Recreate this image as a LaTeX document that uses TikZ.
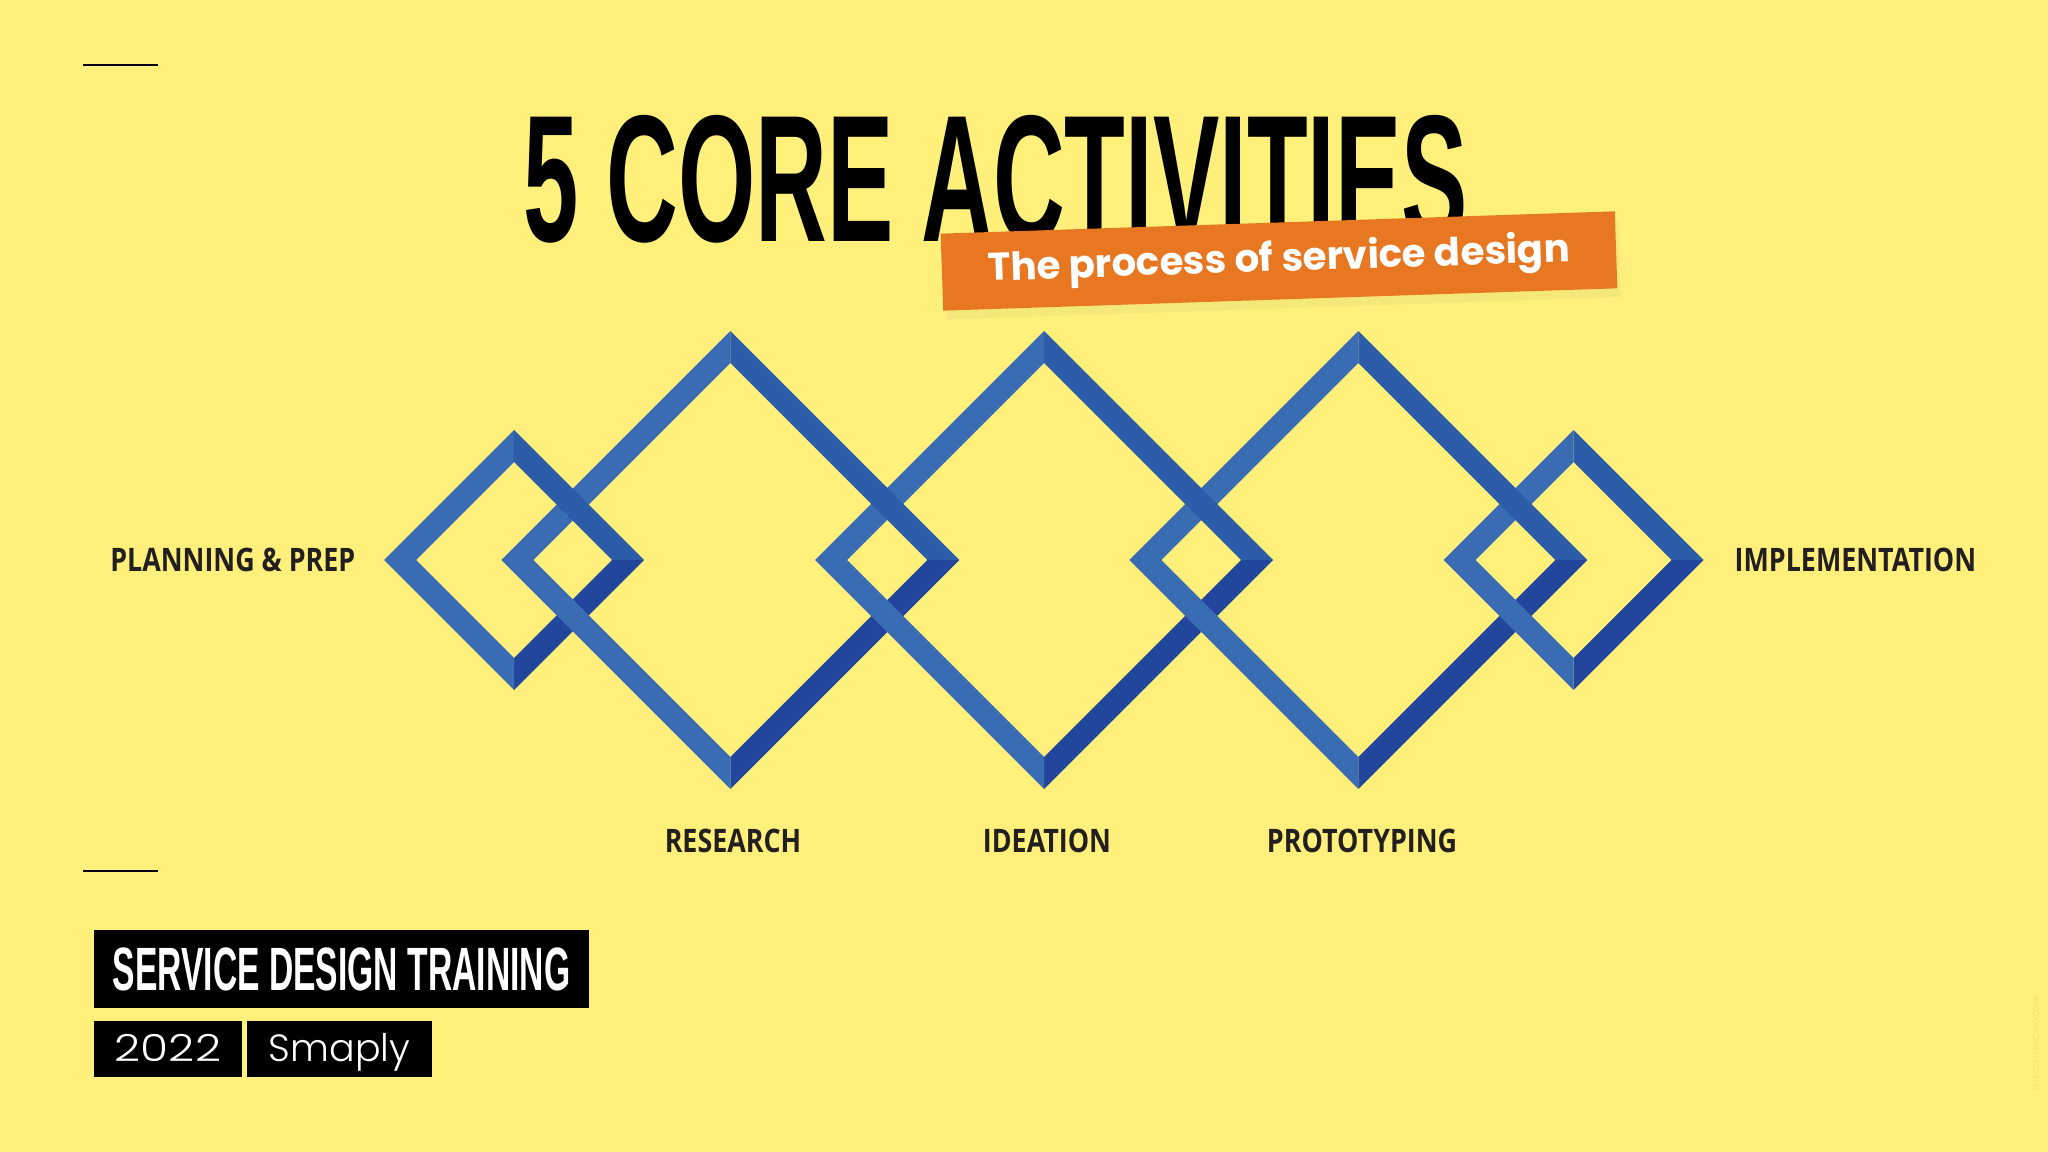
\documentclass[tikz,border=0pt]{standalone}
\usepackage{fontspec}
\setmainfont{Open Sans}
\newfontfamily\titlefont[FakeStretch=0.55]{Liberation Sans}
\newfontfamily\labelfont[FakeStretch=0.83]{Open Sans}
\newfontfamily\popfont{Poppins}
\newfontfamily\popthin{Poppins Light}
\newfontfamily\popwide[FakeStretch=1.22]{Poppins Light}
\usetikzlibrary{shadows}
\definecolor{bgyellow}{RGB}{254,240,122}
\definecolor{blueL}{RGB}{58,108,180}
\definecolor{blueM}{RGB}{45,92,168}
\definecolor{blueD}{RGB}{34,70,155}
\definecolor{bannerorange}{RGB}{232,119,34}
\definecolor{inkdark}{RGB}{35,31,32}
\definecolor{faint}{RGB}{238,224,114}
\begin{document}
\begin{tikzpicture}[x=0.01cm,y=-0.01cm,
  stagelabel/.style={inner sep=0pt,text=inkdark,font=\labelfont\bfseries\fontsize{9.2}{11}\selectfont},
  blackbox/.style={fill=black,text=white,inner sep=0pt},
  banner/.style={fill=bannerorange,text=white,inner sep=0pt,font=\popfont\bfseries\fontsize{11}{13}\selectfont,
    drop shadow={opacity=0.07,shadow xshift=1pt,shadow yshift=-2.5pt}},
  rulebar/.style={line width=0.8pt,black}]
\fill[bgyellow] (0,0) rectangle (2048,1152);
% short rules
\coordinate (ruleA1) at (83,65); \coordinate (ruleA2) at (158,65);
\coordinate (ruleB1) at (83,871); \coordinate (ruleB2) at (158,871);
\draw[rulebar] (ruleA1) -- (ruleA2);
\draw[rulebar] (ruleB1) -- (ruleB2);
% title and banner
\node[anchor=base west,inner sep=0pt,font=\titlefont\bfseries\fontsize{51.4}{56}\selectfont] (title) at (523,242) {5 CORE ACTIVITIES};
\node[banner,rotate=1.9,minimum width=191.8pt,minimum height=21.9pt] (subtitle) at (1279,261) {\raisebox{-1pt}{The process of service design}};
% diamonds, under strands first
\foreach \cx/\h in {514.2/130,730.3/229,1044/229,1358.3/229,1573.7/130}{
  \fill[blueL] (\cx-\h,560) -- (\cx,560-\h) -- (\cx,560-\h+32) -- (\cx-\h+32,560) -- cycle;
  \fill[blueD] (\cx+\h,560) -- (\cx,560+\h) -- (\cx,560+\h-32) -- (\cx+\h-32,560) -- cycle;
}
\foreach \cx/\h in {514.2/130,730.3/229,1044/229,1358.3/229,1573.7/130}{
  \fill[blueM] (\cx,560-\h) -- (\cx+\h,560) -- (\cx+\h-32,560) -- (\cx,560-\h+32) -- cycle;
  \fill[blueL] (\cx,560+\h) -- (\cx-\h,560) -- (\cx-\h+32,560) -- (\cx,560+\h-32) -- cycle;
}
% stage labels
\node[stagelabel,anchor=base east] (plan) at (356,571) {PLANNING \& PREP};
\node[stagelabel,anchor=base] (research) at (733,852) {RESEARCH};
\node[stagelabel,anchor=base] (ideation) at (1047,852) {IDEATION};
\node[stagelabel,anchor=base] (proto) at (1362,852) {PROTOTYPING};
\node[stagelabel,anchor=base west] (impl) at (1734,571) {IMPLEMENTATION};
% footer boxes
\node[blackbox,minimum width=140.8pt,minimum height=22.2pt,font=\titlefont\bfseries\fontsize{17.4}{19}\selectfont] (training) at (341.5,969) {SERVICE DESIGN TRAINING};
\node[blackbox,minimum width=42.1pt,minimum height=15.9pt,text height=7pt,text depth=0pt,font=\popwide\fontsize{10.6}{12}\selectfont] (year) at (168,1048.7) {2022};
\node[blackbox,minimum width=52.6pt,minimum height=15.9pt,text height=7pt,text depth=0pt,font=\popthin\fontsize{10.8}{12}\selectfont] (brand) at (339.5,1048.7) {Smaply};
\node[rotate=90,text=faint,inner sep=0pt,font=\labelfont\fontsize{2.3}{3}\selectfont] (credit) at (2036,1044) {2014--2021 MARC STICKDORN};
\end{tikzpicture}
\end{document}
